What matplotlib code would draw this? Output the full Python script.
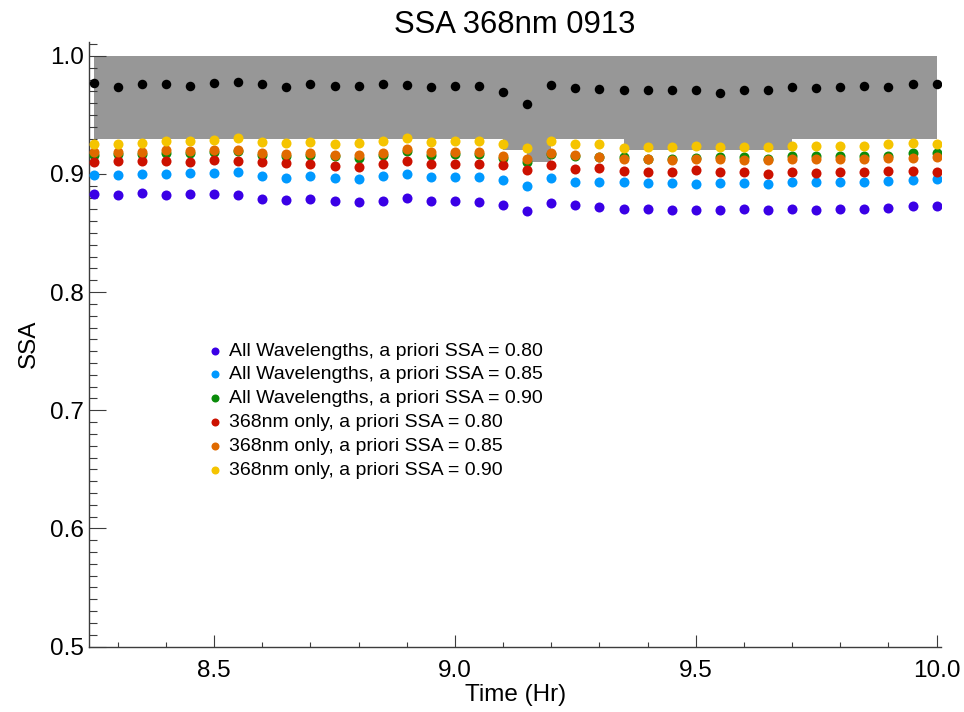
import numpy as np
import matplotlib
matplotlib.use("Agg")
import matplotlib.pyplot as plt
from matplotlib.ticker import MultipleLocator, FixedLocator, FormatStrFormatter

plt.rcParams['font.family'] = ['Liberation Sans', 'DejaVu Sans']

# Retrieval times (hours)
time_hr = [8.25, 8.30, 8.35, 8.40, 8.45, 8.50, 8.55, 8.60, 8.65, 8.70, 8.75, 8.80,
           8.85, 8.90, 8.95, 9.00, 9.05, 9.10, 9.15, 9.20, 9.25, 9.30, 9.35, 9.40,
           9.45, 9.50, 9.55, 9.60, 9.65, 9.70, 9.75, 9.80, 9.85, 9.90, 9.95, 10.00]

# Reference SSA (black) and its uncertainty envelope
ssa_ref = [0.9772, 0.9735, 0.9763, 0.9760, 0.9749, 0.9769, 0.9777, 0.9760, 0.9738, 0.9763, 0.9741, 0.9741,
           0.9763, 0.9755, 0.9735, 0.9749, 0.9741, 0.9698, 0.9591, 0.9755, 0.9732, 0.9721, 0.9712, 0.9712,
           0.9715, 0.9712, 0.9687, 0.9710, 0.9707, 0.9735, 0.9727, 0.9735, 0.9744, 0.9738, 0.9758, 0.9760]
band_upper = [1.0] * 36
band_lower = [0.93] * 17 + [0.92, 0.91, 0.93, 0.93, 0.93] + [0.92] * 7 + [0.93] * 7

# All wavelengths retrievals
all_080 = [0.8832, 0.8818, 0.8838, 0.8821, 0.8832, 0.8827, 0.8818, 0.8787, 0.8776, 0.8790, 0.8773, 0.8765,
           0.8773, 0.8799, 0.8770, 0.8773, 0.8765, 0.8736, 0.8688, 0.8756, 0.8734, 0.8719, 0.8705, 0.8700,
           0.8697, 0.8694, 0.8697, 0.8702, 0.8697, 0.8700, 0.8694, 0.8702, 0.8705, 0.8716, 0.8730, 0.8727]
all_085 = [0.8993, 0.8988, 0.9002, 0.8999, 0.9005, 0.9010, 0.9019, 0.8982, 0.8968, 0.8985, 0.8965, 0.8957,
           0.8982, 0.8999, 0.8971, 0.8977, 0.8971, 0.8948, 0.8897, 0.8965, 0.8934, 0.8934, 0.8932, 0.8920,
           0.8926, 0.8918, 0.8923, 0.8923, 0.8912, 0.8929, 0.8929, 0.8932, 0.8929, 0.8937, 0.8948, 0.8954]
all_090 = [0.9160, 0.9166, 0.9166, 0.9174, 0.9180, 0.9188, 0.9191, 0.9160, 0.9151, 0.9157, 0.9151, 0.9134,
           0.9160, 0.9194, 0.9160, 0.9166, 0.9168, 0.9137, 0.9103, 0.9166, 0.9151, 0.9143, 0.9140, 0.9123,
           0.9131, 0.9137, 0.9143, 0.9140, 0.9131, 0.9151, 0.9151, 0.9154, 0.9151, 0.9154, 0.9174, 0.9180]

# 368nm-only retrievals
nm368_080 = [0.9100, 0.9109, 0.9111, 0.9114, 0.9100, 0.9117, 0.9114, 0.9098, 0.9095, 0.9086, 0.9069, 0.9058,
             0.9086, 0.9109, 0.9086, 0.9086, 0.9086, 0.9072, 0.9038, 0.9075, 0.9044, 0.9047, 0.9027, 0.9016,
             0.9021, 0.9030, 0.9021, 0.9013, 0.8999, 0.9016, 0.9007, 0.9019, 0.9013, 0.9027, 0.9024, 0.9021]
nm368_085 = [0.9188, 0.9188, 0.9188, 0.9199, 0.9194, 0.9199, 0.9205, 0.9180, 0.9171, 0.9180, 0.9160, 0.9157,
             0.9180, 0.9213, 0.9188, 0.9185, 0.9185, 0.9151, 0.9129, 0.9180, 0.9157, 0.9143, 0.9123, 0.9123,
             0.9120, 0.9131, 0.9123, 0.9115, 0.9117, 0.9126, 0.9126, 0.9129, 0.9126, 0.9134, 0.9137, 0.9143]
nm368_090 = [0.9258, 0.9256, 0.9264, 0.9278, 0.9278, 0.9289, 0.9301, 0.9267, 0.9264, 0.9267, 0.9253, 0.9261,
             0.9278, 0.9306, 0.9275, 0.9281, 0.9281, 0.9258, 0.9219, 0.9281, 0.9258, 0.9253, 0.9222, 0.9227,
             0.9227, 0.9239, 0.9230, 0.9230, 0.9225, 0.9239, 0.9239, 0.9233, 0.9239, 0.9250, 0.9264, 0.9258]

series_labels = ["All Wavelengths, a priori SSA = 0.80",
                 "All Wavelengths, a priori SSA = 0.85",
                 "All Wavelengths, a priori SSA = 0.90",
                 "368nm only, a priori SSA = 0.80",
                 "368nm only, a priori SSA = 0.85",
                 "368nm only, a priori SSA = 0.90"]
series_values = [all_080, all_085, all_090, nm368_080, nm368_085, nm368_090]
series_colors = ["#3a00e6", "#0099ff", "#0a8c0a", "#cc1100", "#e06a00", "#f5c400"]

x_ticks = [8.5, 9.0, 9.5, 10.0]
y_ticks = [0.5, 0.6, 0.7, 0.8, 0.9, 1.0]

axis_color = "#3c3c3c"

fig = plt.figure(figsize=(9.64, 7.12), dpi=100)
ax = fig.add_axes([89.3 / 964, 1 - 646.5 / 712, (941 - 89.3) / 964, (646.5 - 41.7) / 712])

ax.fill_between(time_hr, band_lower, band_upper, step='post', color="#979797",
                linewidth=0, zorder=1)
ax.scatter(time_hr, ssa_ref, s=47, color="black", linewidths=0, zorder=3)

for vals, col, lab in zip(series_values, series_colors, series_labels):
    ax.scatter(time_hr, vals, s=52, color=col, linewidths=0, label=lab, zorder=4)

ax.set_xlim(8.241, 10.009)
ax.set_ylim(0.5, 1.012)

ax.xaxis.set_major_locator(FixedLocator(x_ticks))
ax.xaxis.set_minor_locator(MultipleLocator(0.1))
ax.yaxis.set_major_locator(FixedLocator(y_ticks))
ax.yaxis.set_minor_locator(MultipleLocator(0.01))
ax.xaxis.set_major_formatter(FormatStrFormatter('%.1f'))
ax.yaxis.set_major_formatter(FormatStrFormatter('%.1f'))

for side in ("top", "right"):
    ax.spines[side].set_visible(False)
for side in ("left", "bottom"):
    ax.spines[side].set_color(axis_color)
    ax.spines[side].set_linewidth(1.0)

ax.tick_params(axis='x', which='major', direction='in', length=8.3, width=0.8,
               color=axis_color, labelsize=17.5, pad=10)
ax.tick_params(axis='x', which='minor', direction='in', length=3.8, width=0.8,
               color=axis_color)
ax.tick_params(axis='y', which='major', direction='in', length=12, width=0.8,
               color=axis_color, labelsize=17.5, pad=4)
ax.tick_params(axis='y', which='minor', direction='in', length=5.8, width=0.8,
               color=axis_color)

ax.set_xlabel("Time (Hr)", fontsize=17.5, labelpad=1)
ax.set_ylabel("SSA", fontsize=17.5, labelpad=7)
ax.set_title("SSA 368nm 0913", fontsize=22.3, pad=6.5)

leg = ax.legend(loc='upper left', bbox_to_anchor=(207 / 964, 1 - 342 / 712),
                bbox_transform=fig.transFigure, frameon=False, fontsize=14,
                markerscale=0.8, handlelength=0.8, handletextpad=0.32,
                labelspacing=0.32, borderpad=0, borderaxespad=0, scatterpoints=1)

fig.savefig("out.png", dpi=100)
